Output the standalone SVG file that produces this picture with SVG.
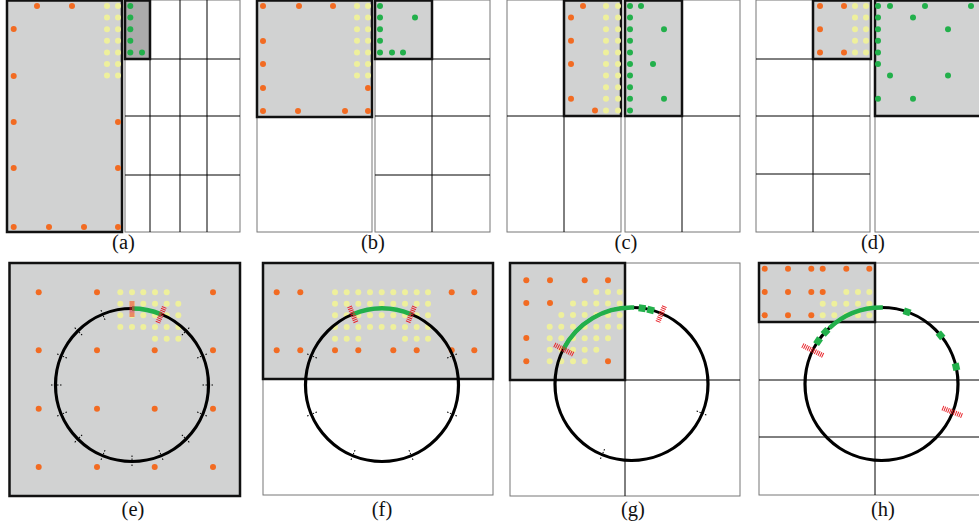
<svg xmlns="http://www.w3.org/2000/svg" width="979" height="527" viewBox="0 0 979 527">
<style>
.o{fill:#f26b22}
.y{fill:#eef09c}
.g{fill:#22b04b}
.sel{fill:#d1d2d2;stroke:#111;stroke-width:2.5}
.dk{fill:#ababab;stroke:#111;stroke-width:2.5}
.frame{fill:#fff;stroke:#777;stroke-width:1}
.grid{stroke:#000;stroke-width:1}
.ring{fill:none;stroke:#000;stroke-width:3.2}
.arc{fill:none;stroke:#22b04b;stroke-width:4.5}
.gs{fill:#22b04b}
.mk{stroke:#e8232a;stroke-width:5;stroke-dasharray:1 1}
.tk{stroke:#000;stroke-width:1;stroke-dasharray:1.5 1.5}
.lbl{font-family:"Liberation Serif","Times New Roman",serif;font-size:20.5px;text-anchor:middle;fill:#111}
</style>
<rect width="979" height="527" fill="#fff"/>

<!-- (a) -->
<g id="panel-a">
<rect class="frame" x="125" y="0" width="115" height="232"/>
<line class="grid" x1="180" y1="0" x2="180" y2="232"/>
<line class="grid" x1="207" y1="0" x2="207" y2="232"/>
<line class="grid" x1="150" y1="59" x2="150" y2="232"/>
<line class="grid" x1="125" y1="59" x2="240" y2="59"/>
<line class="grid" x1="125" y1="116" x2="240" y2="116"/>
<line class="grid" x1="125" y1="175" x2="240" y2="175"/>
<rect class="dk" x="125" y="0.5" width="25" height="58.5"/>
<rect class="sel" x="7" y="0.5" width="115" height="231.5"/>
<g>
<circle class="o" cx="37" cy="6" r="3"/><circle class="o" cx="72" cy="6" r="3"/>
<circle class="o" cx="13.7" cy="29" r="3"/><circle class="o" cx="13.7" cy="76" r="3"/>
<circle class="o" cx="13.7" cy="122" r="3"/><circle class="o" cx="13.7" cy="168" r="3"/>
<circle class="o" cx="13.7" cy="227" r="3"/><circle class="o" cx="49" cy="227" r="3"/>
<circle class="o" cx="84" cy="227" r="3"/><circle class="o" cx="118" cy="227" r="3"/>
<circle class="o" cx="118" cy="122" r="3"/><circle class="o" cx="118" cy="168" r="3"/>
</g>
<g>
<circle class="y" cx="107" cy="6" r="3"/><circle class="y" cx="118" cy="6" r="3"/>
<circle class="y" cx="107" cy="17.6" r="3"/><circle class="y" cx="118" cy="17.6" r="3"/>
<circle class="y" cx="107" cy="29.2" r="3"/><circle class="y" cx="118" cy="29.2" r="3"/>
<circle class="y" cx="107" cy="40.8" r="3"/><circle class="y" cx="118" cy="40.8" r="3"/>
<circle class="y" cx="107" cy="52.4" r="3"/><circle class="y" cx="118" cy="52.4" r="3"/>
<circle class="y" cx="107" cy="64" r="3"/><circle class="y" cx="118" cy="64" r="3"/>
<circle class="y" cx="107" cy="75.6" r="3"/><circle class="y" cx="118" cy="75.6" r="3"/>
</g>
<g>
<circle class="g" cx="130.3" cy="6" r="3"/><circle class="g" cx="130.3" cy="17.6" r="3"/>
<circle class="g" cx="130.3" cy="29.2" r="3"/><circle class="g" cx="130.3" cy="40.8" r="3"/>
<circle class="g" cx="130.3" cy="52.4" r="3"/><circle class="g" cx="142" cy="52.4" r="3"/>
</g>
<text class="lbl" x="123.5" y="249">(a)</text>
</g>

<!-- (b) -->
<g id="panel-b">
<rect class="frame" x="257" y="0" width="115" height="232"/>
<rect class="frame" x="375" y="0" width="115" height="232"/>
<line class="grid" x1="432" y1="0" x2="432" y2="232"/>
<line class="grid" x1="375" y1="59" x2="490" y2="59"/>
<line class="grid" x1="375" y1="116" x2="490" y2="116"/>
<line class="grid" x1="375" y1="175" x2="490" y2="175"/>
<rect class="sel" x="375" y="0.5" width="57" height="58.5"/>
<rect class="sel" x="257" y="0.5" width="115" height="116.5"/>
<g>
<circle class="o" cx="263" cy="6" r="3"/><circle class="o" cx="299" cy="6" r="3"/><circle class="o" cx="333" cy="6" r="3"/>
<circle class="o" cx="263" cy="41" r="3"/><circle class="o" cx="263" cy="64" r="3"/>
<circle class="o" cx="263" cy="88" r="3"/><circle class="o" cx="263" cy="111" r="3"/>
<circle class="o" cx="298" cy="111" r="3"/><circle class="o" cx="345" cy="111" r="3"/>
<circle class="o" cx="368" cy="111" r="3"/><circle class="o" cx="368" cy="88" r="3"/>
</g>
<g>
<circle class="y" cx="357" cy="6" r="3"/><circle class="y" cx="368" cy="6" r="3"/>
<circle class="y" cx="357" cy="17.6" r="3"/><circle class="y" cx="368" cy="17.6" r="3"/>
<circle class="y" cx="357" cy="29.2" r="3"/><circle class="y" cx="368" cy="29.2" r="3"/>
<circle class="y" cx="357" cy="40.8" r="3"/><circle class="y" cx="368" cy="40.8" r="3"/>
<circle class="y" cx="357" cy="52.4" r="3"/><circle class="y" cx="368" cy="52.4" r="3"/>
<circle class="y" cx="357" cy="64" r="3"/><circle class="y" cx="368" cy="64" r="3"/>
<circle class="y" cx="357" cy="75.6" r="3"/><circle class="y" cx="368" cy="75.6" r="3"/>
</g>
<g>
<circle class="g" cx="380" cy="6" r="3"/><circle class="g" cx="380" cy="17.6" r="3"/>
<circle class="g" cx="380" cy="29.2" r="3"/><circle class="g" cx="380" cy="40.8" r="3"/>
<circle class="g" cx="380" cy="52.4" r="3"/><circle class="g" cx="392" cy="52.4" r="3"/>
<circle class="g" cx="403" cy="52.4" r="3"/><circle class="g" cx="415" cy="17.6" r="3"/>
</g>
<text class="lbl" x="373" y="249">(b)</text>
</g>

<!-- (c) -->
<g id="panel-c">
<rect class="frame" x="507" y="0" width="114" height="232"/>
<rect class="frame" x="625" y="0" width="115" height="232"/>
<line class="grid" x1="564" y1="0" x2="564" y2="232"/>
<line class="grid" x1="507" y1="116" x2="621" y2="116"/>
<line class="grid" x1="682" y1="0" x2="682" y2="232"/>
<line class="grid" x1="625" y1="116" x2="740" y2="116"/>
<rect class="sel" x="564" y="0.5" width="57" height="115.5"/>
<rect class="sel" x="625" y="0.5" width="57" height="115.5"/>
<g>
<circle class="o" cx="583" cy="6" r="3"/><circle class="o" cx="571" cy="17.6" r="3"/>
<circle class="o" cx="571" cy="40.8" r="3"/><circle class="o" cx="571" cy="64" r="3"/>
<circle class="o" cx="571" cy="98.8" r="3"/><circle class="o" cx="595" cy="110.4" r="3"/>
</g>
<g>
<circle class="y" cx="606" cy="6" r="3"/><circle class="y" cx="618" cy="6" r="3"/>
<circle class="y" cx="606" cy="17.6" r="3"/><circle class="y" cx="618" cy="17.6" r="3"/>
<circle class="y" cx="606" cy="29.2" r="3"/><circle class="y" cx="618" cy="29.2" r="3"/>
<circle class="y" cx="606" cy="40.8" r="3"/><circle class="y" cx="618" cy="40.8" r="3"/>
<circle class="y" cx="606" cy="52.4" r="3"/><circle class="y" cx="618" cy="52.4" r="3"/>
<circle class="y" cx="606" cy="64" r="3"/><circle class="y" cx="618" cy="64" r="3"/>
<circle class="y" cx="606" cy="75.6" r="3"/><circle class="y" cx="618" cy="75.6" r="3"/>
<circle class="y" cx="606" cy="87.2" r="3"/><circle class="y" cx="618" cy="87.2" r="3"/>
<circle class="y" cx="606" cy="98.8" r="3"/><circle class="y" cx="618" cy="98.8" r="3"/>
<circle class="y" cx="606" cy="110.4" r="3"/><circle class="y" cx="618" cy="110.4" r="3"/>
</g>
<g>
<circle class="g" cx="630" cy="6" r="3"/><circle class="g" cx="630" cy="17.6" r="3"/>
<circle class="g" cx="630" cy="29.2" r="3"/><circle class="g" cx="630" cy="40.8" r="3"/>
<circle class="g" cx="630" cy="52.4" r="3"/><circle class="g" cx="630" cy="64" r="3"/>
<circle class="g" cx="630" cy="75.6" r="3"/><circle class="g" cx="630" cy="87.2" r="3"/>
<circle class="g" cx="630" cy="98.8" r="3"/><circle class="g" cx="630" cy="110.4" r="3"/>
<circle class="g" cx="641" cy="6" r="3"/><circle class="g" cx="664" cy="29.2" r="3"/>
<circle class="g" cx="653" cy="64" r="3"/><circle class="g" cx="664" cy="98.8" r="3"/>
</g>
<text class="lbl" x="626" y="249">(c)</text>
</g>

<!-- (d) -->
<g id="panel-d">
<rect class="frame" x="756" y="0" width="114" height="232"/>
<rect class="frame" x="875" y="0" width="120" height="232"/>
<line class="grid" x1="813" y1="0" x2="813" y2="232"/>
<line class="grid" x1="756" y1="59" x2="870" y2="59"/>
<line class="grid" x1="756" y1="116" x2="870" y2="116"/>
<line class="grid" x1="756" y1="174" x2="870" y2="174"/>
<rect class="sel" x="813" y="0.5" width="58" height="58.5"/>
<rect class="sel" x="875" y="0.5" width="120" height="115.5"/>
<g>
<circle class="o" cx="820" cy="6" r="3"/><circle class="o" cx="844" cy="6" r="3"/>
<circle class="o" cx="820" cy="29.2" r="3"/><circle class="o" cx="820" cy="52.4" r="3"/>
<circle class="o" cx="844" cy="52.4" r="3"/>
</g>
<g>
<circle class="y" cx="855" cy="6" r="3"/><circle class="y" cx="866" cy="6" r="3"/>
<circle class="y" cx="855" cy="17.6" r="3"/><circle class="y" cx="866" cy="17.6" r="3"/>
<circle class="y" cx="855" cy="29.2" r="3"/><circle class="y" cx="866" cy="29.2" r="3"/>
<circle class="y" cx="855" cy="40.8" r="3"/><circle class="y" cx="866" cy="40.8" r="3"/>
<circle class="y" cx="855" cy="52.4" r="3"/><circle class="y" cx="866" cy="52.4" r="3"/>
</g>
<g>
<circle class="g" cx="878" cy="6" r="3"/><circle class="g" cx="878" cy="17.6" r="3"/>
<circle class="g" cx="878" cy="29.2" r="3"/><circle class="g" cx="878" cy="40.8" r="3"/>
<circle class="g" cx="878" cy="52.4" r="3"/><circle class="g" cx="878" cy="64" r="3"/>
<circle class="g" cx="890" cy="6" r="3"/><circle class="g" cx="925" cy="6" r="3"/>
<circle class="g" cx="971" cy="6" r="3"/><circle class="g" cx="913" cy="17.6" r="3"/>
<circle class="g" cx="948" cy="29.2" r="3"/><circle class="g" cx="890" cy="75.6" r="3"/>
<circle class="g" cx="948" cy="75.6" r="3"/><circle class="g" cx="878" cy="98.8" r="3"/>
<circle class="g" cx="913" cy="98.8" r="3"/>
</g>
<text class="lbl" x="873" y="249">(d)</text>
</g>

<!-- (e) -->
<g id="panel-e">
<rect class="sel" x="9.5" y="263" width="230.5" height="233"/>
<g>
<circle class="o" cx="38.7" cy="292.3" r="3"/><circle class="o" cx="97" cy="292.3" r="3"/><circle class="o" cx="213" cy="292.3" r="3"/>
<circle class="o" cx="38.7" cy="350.3" r="3"/><circle class="o" cx="97" cy="350.3" r="3"/><circle class="o" cx="154.7" cy="350.3" r="3"/><circle class="o" cx="213" cy="350.3" r="3"/>
<circle class="o" cx="38.7" cy="408.7" r="3"/><circle class="o" cx="97" cy="408.7" r="3"/><circle class="o" cx="154.7" cy="408.7" r="3"/><circle class="o" cx="213" cy="408.7" r="3"/>
<circle class="o" cx="38.7" cy="467" r="3"/><circle class="o" cx="97" cy="467" r="3"/><circle class="o" cx="154.7" cy="467" r="3"/><circle class="o" cx="213" cy="467" r="3"/>
</g>
<g>
<circle class="y" cx="120.3" cy="292.3" r="3"/><circle class="y" cx="132" cy="292.3" r="3"/><circle class="y" cx="143.3" cy="292.3" r="3"/><circle class="y" cx="155" cy="292.3" r="3"/><circle class="y" cx="166.7" cy="292.3" r="3"/>
<circle class="y" cx="120.3" cy="303.7" r="3"/><circle class="y" cx="132" cy="303.7" r="3"/><circle class="y" cx="143.3" cy="303.7" r="3"/><circle class="y" cx="155" cy="303.7" r="3"/><circle class="y" cx="166.7" cy="303.7" r="3"/><circle class="y" cx="178.3" cy="303.7" r="3"/>
<circle class="y" cx="120.3" cy="315.3" r="3"/><circle class="y" cx="132" cy="315.3" r="3"/><circle class="y" cx="143.3" cy="315.3" r="3"/><circle class="y" cx="155" cy="315.3" r="3"/><circle class="y" cx="166.7" cy="315.3" r="3"/><circle class="y" cx="178.3" cy="315.3" r="3"/>
<circle class="y" cx="120.3" cy="327" r="3"/><circle class="y" cx="132" cy="327" r="3"/><circle class="y" cx="143.3" cy="327" r="3"/><circle class="y" cx="155" cy="327" r="3"/><circle class="y" cx="166.7" cy="327" r="3"/><circle class="y" cx="178.3" cy="327" r="3"/>
<circle class="y" cx="155" cy="338.7" r="3"/><circle class="y" cx="166.7" cy="338.7" r="3"/><circle class="y" cx="178.3" cy="338.7" r="3"/>
</g>
<g transform="translate(132 385)">
<circle class="ring" r="76.5"/>
<path class="arc" d="M0,-76.5 A76.5,76.5 0 0 1 29.28,-70.68"/>
<line class="tk" x1="70.5" x2="82.5" transform="rotate(0)"/>
<line class="tk" x1="70.5" x2="82.5" transform="rotate(22.5)"/>
<line class="tk" x1="70.5" x2="82.5" transform="rotate(45)"/>
<line class="tk" x1="70.5" x2="82.5" transform="rotate(67.5)"/>
<line class="tk" x1="70.5" x2="82.5" transform="rotate(90)"/>
<line class="tk" x1="70.5" x2="82.5" transform="rotate(112.5)"/>
<line class="tk" x1="70.5" x2="82.5" transform="rotate(135)"/>
<line class="tk" x1="70.5" x2="82.5" transform="rotate(157.5)"/>
<line class="tk" x1="70.5" x2="82.5" transform="rotate(180)"/>
<line class="tk" x1="70.5" x2="82.5" transform="rotate(202.5)"/>
<line class="tk" x1="70.5" x2="82.5" transform="rotate(225)"/>
<line class="tk" x1="70.5" x2="82.5" transform="rotate(247.5)"/>
<line class="tk" x1="70.5" x2="82.5" transform="rotate(315)"/>
<line class="tk" x1="70.5" x2="82.5" transform="rotate(337.5)"/>
<line class="mk" x1="68.5" x2="84.5" transform="rotate(270)"/>
<line class="mk" x1="67.5" x2="85.5" transform="rotate(292.5)"/>
</g>
<text class="lbl" x="133" y="516">(e)</text>
</g>

<!-- (f) -->
<g id="panel-f">
<rect class="frame" x="263" y="263" width="230" height="232"/>
<rect class="sel" x="263" y="263" width="230" height="116"/>
<g>
<circle class="o" cx="276.7" cy="292.3" r="3"/><circle class="o" cx="300.3" cy="292.3" r="3"/><circle class="o" cx="451.7" cy="292.3" r="3"/><circle class="o" cx="474.3" cy="292.3" r="3"/>
<circle class="o" cx="276.7" cy="350.3" r="3"/><circle class="o" cx="300.3" cy="350.3" r="3"/><circle class="o" cx="335" cy="350.3" r="3"/><circle class="o" cx="358.3" cy="350.3" r="3"/>
<circle class="o" cx="393.3" cy="350.3" r="3"/><circle class="o" cx="416.7" cy="350.3" r="3"/><circle class="o" cx="451.7" cy="350.3" r="3"/><circle class="o" cx="474.3" cy="350.3" r="3"/>
</g>
<g>
<circle class="y" cx="335" cy="292.3" r="3"/><circle class="y" cx="346.7" cy="292.3" r="3"/><circle class="y" cx="358.3" cy="292.3" r="3"/><circle class="y" cx="370" cy="292.3" r="3"/><circle class="y" cx="381.7" cy="292.3" r="3"/><circle class="y" cx="393.3" cy="292.3" r="3"/><circle class="y" cx="405" cy="292.3" r="3"/><circle class="y" cx="416.7" cy="292.3" r="3"/><circle class="y" cx="428" cy="292.3" r="3"/>
<circle class="y" cx="335" cy="303.7" r="3"/><circle class="y" cx="346.7" cy="303.7" r="3"/><circle class="y" cx="358.3" cy="303.7" r="3"/><circle class="y" cx="370" cy="303.7" r="3"/><circle class="y" cx="381.7" cy="303.7" r="3"/><circle class="y" cx="393.3" cy="303.7" r="3"/><circle class="y" cx="405" cy="303.7" r="3"/><circle class="y" cx="416.7" cy="303.7" r="3"/><circle class="y" cx="428" cy="303.7" r="3"/>
<circle class="y" cx="335" cy="315.3" r="3"/><circle class="y" cx="346.7" cy="315.3" r="3"/><circle class="y" cx="358.3" cy="315.3" r="3"/><circle class="y" cx="370" cy="315.3" r="3"/><circle class="y" cx="381.7" cy="315.3" r="3"/><circle class="y" cx="393.3" cy="315.3" r="3"/><circle class="y" cx="405" cy="315.3" r="3"/><circle class="y" cx="416.7" cy="315.3" r="3"/><circle class="y" cx="428" cy="315.3" r="3"/>
<circle class="y" cx="335" cy="327" r="3"/><circle class="y" cx="346.7" cy="327" r="3"/><circle class="y" cx="358.3" cy="327" r="3"/><circle class="y" cx="370" cy="327" r="3"/><circle class="y" cx="381.7" cy="327" r="3"/><circle class="y" cx="393.3" cy="327" r="3"/><circle class="y" cx="405" cy="327" r="3"/><circle class="y" cx="416.7" cy="327" r="3"/><circle class="y" cx="428" cy="327" r="3"/>
<circle class="y" cx="335" cy="338.7" r="3"/><circle class="y" cx="346.7" cy="338.7" r="3"/><circle class="y" cx="358.3" cy="338.7" r="3"/><circle class="y" cx="405" cy="338.7" r="3"/><circle class="y" cx="416.7" cy="338.7" r="3"/><circle class="y" cx="428" cy="338.7" r="3"/>
</g>
<g transform="translate(382 385)">
<circle class="ring" r="76.5"/>
<path class="arc" d="M-29.28,-70.68 A76.5,76.5 0 0 1 29.28,-70.68"/>
<line class="tk" x1="70.5" x2="82.5" transform="rotate(22.5)"/>
<line class="tk" x1="70.5" x2="82.5" transform="rotate(67.5)"/>
<line class="tk" x1="70.5" x2="82.5" transform="rotate(112.5)"/>
<line class="tk" x1="70.5" x2="82.5" transform="rotate(157.5)"/>
<line class="tk" x1="70.5" x2="82.5" transform="rotate(202.5)"/>
<line class="tk" x1="70.5" x2="82.5" transform="rotate(337.5)"/>
<line class="mk" x1="68" x2="85" transform="rotate(247.5)"/>
<line class="mk" x1="68" x2="85" transform="rotate(292.5)"/>
</g>
<text class="lbl" x="382" y="516">(f)</text>
</g>

<!-- (g) -->
<g id="panel-g">
<rect class="frame" x="510" y="263" width="230" height="233"/>
<line class="grid" x1="625" y1="263" x2="625" y2="496"/>
<line class="grid" x1="510" y1="380" x2="740" y2="380"/>
<rect class="sel" x="510" y="263" width="115" height="117"/>
<g>
<circle class="o" cx="526.3" cy="280.3" r="3"/><circle class="o" cx="550" cy="280.3" r="3"/><circle class="o" cx="584.7" cy="280.3" r="3"/><circle class="o" cx="608" cy="280.3" r="3"/>
<circle class="o" cx="526.3" cy="303" r="3"/><circle class="o" cx="550" cy="303" r="3"/>
<circle class="o" cx="526.3" cy="338" r="3"/>
<circle class="o" cx="526.3" cy="361.3" r="3"/><circle class="o" cx="608" cy="361.3" r="3"/>
</g>
<g>
<circle class="y" cx="596.3" cy="292" r="3"/><circle class="y" cx="608" cy="292" r="3"/><circle class="y" cx="619.7" cy="292" r="3"/>
<circle class="y" cx="573" cy="303.5" r="3"/><circle class="y" cx="584.7" cy="303.5" r="3"/><circle class="y" cx="596.3" cy="303.5" r="3"/><circle class="y" cx="608" cy="303.5" r="3"/><circle class="y" cx="619.7" cy="303.5" r="3"/>
<circle class="y" cx="561.3" cy="315" r="3"/><circle class="y" cx="573" cy="315" r="3"/><circle class="y" cx="584.7" cy="315" r="3"/><circle class="y" cx="596.3" cy="315" r="3"/><circle class="y" cx="608" cy="315" r="3"/><circle class="y" cx="619.7" cy="315" r="3"/>
<circle class="y" cx="549.7" cy="326.7" r="3"/><circle class="y" cx="561.3" cy="326.7" r="3"/><circle class="y" cx="573" cy="326.7" r="3"/><circle class="y" cx="584.7" cy="326.7" r="3"/><circle class="y" cx="596.3" cy="326.7" r="3"/><circle class="y" cx="608" cy="326.7" r="3"/><circle class="y" cx="619.7" cy="326.7" r="3"/>
<circle class="y" cx="549.7" cy="338.3" r="3"/><circle class="y" cx="561.3" cy="338.3" r="3"/><circle class="y" cx="573" cy="338.3" r="3"/><circle class="y" cx="584.7" cy="338.3" r="3"/><circle class="y" cx="596.3" cy="338.3" r="3"/><circle class="y" cx="608" cy="338.3" r="3"/>
<circle class="y" cx="549.7" cy="349.7" r="3"/><circle class="y" cx="561.3" cy="349.7" r="3"/><circle class="y" cx="573" cy="349.7" r="3"/><circle class="y" cx="584.7" cy="349.7" r="3"/><circle class="y" cx="596.3" cy="349.7" r="3"/>
<circle class="y" cx="549.7" cy="361.3" r="3"/><circle class="y" cx="561.3" cy="361.3" r="3"/><circle class="y" cx="573" cy="361.3" r="3"/><circle class="y" cx="584.7" cy="361.3" r="3"/>
</g>
<g transform="translate(631.5 384)">
<circle class="ring" r="76.5"/>
<path class="arc" d="M-68.16,-34.73 A76.5,76.5 0 0 1 2.67,-76.45"/>
<rect class="gs" x="73" y="-3.5" width="7" height="7" transform="rotate(278)"/>
<rect class="gs" x="73" y="-3.5" width="7" height="7" transform="rotate(284.5)"/>
<line class="tk" x1="70.5" x2="82.5" transform="rotate(22.5)"/>
<line class="tk" x1="70.5" x2="82.5" transform="rotate(112.5)"/>
<line class="mk" x1="65.5" x2="87.5" transform="rotate(207)"/>
<line class="mk" x1="67.5" x2="85.5" transform="rotate(293)"/>
</g>
<text class="lbl" x="633" y="516">(g)</text>
</g>

<!-- (h) -->
<g id="panel-h">
<rect class="frame" x="759" y="263" width="236" height="232"/>
<line class="grid" x1="875" y1="263" x2="875" y2="495"/>
<line class="grid" x1="759" y1="322" x2="995" y2="322"/>
<line class="grid" x1="759" y1="380" x2="995" y2="380"/>
<line class="grid" x1="759" y1="437" x2="995" y2="437"/>
<rect class="sel" x="759" y="263" width="116" height="59"/>
<g>
<circle class="o" cx="764.7" cy="268.7" r="3"/><circle class="o" cx="788" cy="268.7" r="3"/><circle class="o" cx="811.3" cy="268.7" r="3"/><circle class="o" cx="822.7" cy="268.7" r="3"/><circle class="o" cx="846.3" cy="268.7" r="3"/><circle class="o" cx="869.3" cy="268.7" r="3"/>
<circle class="o" cx="764.7" cy="292" r="3"/><circle class="o" cx="788" cy="292" r="3"/><circle class="o" cx="811.3" cy="292" r="3"/><circle class="o" cx="822.7" cy="292" r="3"/>
<circle class="o" cx="764.7" cy="315.3" r="3"/><circle class="o" cx="788" cy="315.3" r="3"/><circle class="o" cx="811.3" cy="315.3" r="3"/>
</g>
<g>
<circle class="y" cx="846.3" cy="292" r="3"/><circle class="y" cx="858" cy="292" r="3"/><circle class="y" cx="869.3" cy="292" r="3"/>
<circle class="y" cx="822.7" cy="303.7" r="3"/><circle class="y" cx="834.3" cy="303.7" r="3"/><circle class="y" cx="846.3" cy="303.7" r="3"/><circle class="y" cx="858" cy="303.7" r="3"/><circle class="y" cx="869.3" cy="303.7" r="3"/>
<circle class="y" cx="822.7" cy="315.3" r="3"/><circle class="y" cx="834.3" cy="315.3" r="3"/><circle class="y" cx="846.3" cy="315.3" r="3"/><circle class="y" cx="858" cy="315.3" r="3"/><circle class="y" cx="869.3" cy="315.3" r="3"/>
</g>
<g transform="translate(881.5 384)">
<circle class="ring" r="76.5"/>
<path class="arc" d="M-52.17,-55.95 A76.5,76.5 0 0 1 1.34,-76.49"/>
<rect class="gs" x="73" y="-3.5" width="7" height="7" transform="rotate(214)"/>
<rect class="gs" x="73" y="-3.5" width="7" height="7" transform="rotate(223)"/>
<rect class="gs" x="73" y="-3.5" width="7" height="7" transform="rotate(289.5)"/>
<rect class="gs" x="73" y="-3.5" width="7" height="7" transform="rotate(320.5)"/>
<rect class="gs" x="73" y="-3.5" width="7" height="7" transform="rotate(347)"/>
<line class="mk" x1="65" x2="88" transform="rotate(206)"/>
<line class="mk" x1="65.5" x2="87.5" transform="rotate(21.5)"/>
</g>
<text class="lbl" x="883" y="516">(h)</text>
</g>
</svg>
